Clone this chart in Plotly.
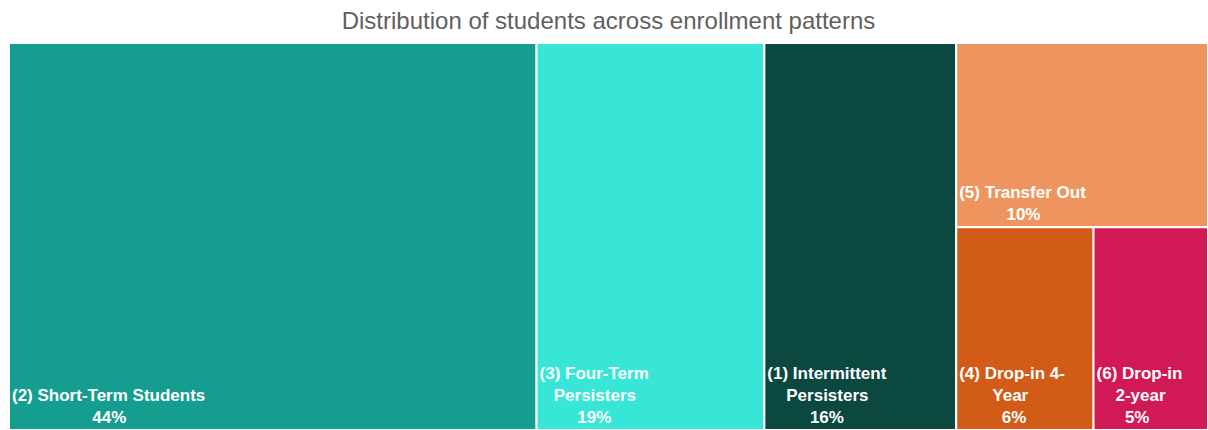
import plotly.graph_objects as go

# Enrollment pattern groups and their share of students (%)
labels = [
    "(2) Short-Term Students",
    "(3) Four-Term Persisters",
    "(1) Intermittent Persisters",
    "(5) Transfer Out",
    "(4) Drop-in 4-Year",
    "(6) Drop-in 2-year",
]
# How each label is broken over lines inside its tile
label_lines = [
    ["(2) Short-Term Students"],
    ["(3) Four-Term", "Persisters"],
    ["(1) Intermittent", "Persisters"],
    ["(5) Transfer Out"],
    ["(4) Drop-in 4-", "Year"],
    ["(6) Drop-in", "2-year"],
]
shares = [44, 19, 16, 10, 6, 5]
colors = ["#159e8f", "#37e6d6", "#0b4840", "#ee955f", "#d15b17", "#d11a55"]

# Approximate bold sans-serif advance widths (per 1000 em) used to centre
# the lines of each tile label under one another.
_W = {
    " ": 278, "(": 333, ")": 333, "-": 333, "%": 889,
    "D": 722, "F": 611, "I": 278, "O": 778, "P": 667, "S": 667, "T": 611, "Y": 667,
    "a": 556, "d": 611, "e": 556, "f": 333, "h": 611, "i": 278, "l": 278,
    "m": 889, "n": 611, "o": 611, "p": 611, "r": 389, "s": 556, "t": 333,
    "u": 611, "y": 556,
}


def _width(s):
    return sum(_W.get(c, 556) for c in s)


def centred_block(lines):
    widest = max(_width(l) for l in lines)
    out = []
    for l in lines:
        n = int(round((widest - _width(l)) / 2 / 278))
        out.append("\u00a0" * n + l)
    return "<br>".join(out)


tile_text = [
    centred_block(lines + [f"{v}%"]) for lines, v in zip(label_lines, shares)
]

fig = go.Figure(
    go.Treemap(
        labels=labels,
        parents=[""] * len(labels),
        values=shares,
        text=tile_text,
        texttemplate="<b>%{text}</b>",
        textposition="bottom left",
        textfont=dict(family="Liberation Sans, Arial, sans-serif", size=17, color="white"),
        marker=dict(
            colors=colors,
            line=dict(color="white", width=2),
            pad=dict(t=0, l=0, r=0, b=0),
        ),
        tiling=dict(packing="squarify", pad=0),
        pathbar=dict(visible=False),
        hoverinfo="label+value",
        sort=True,
        domain=dict(x=[0, 1], y=[0, 1]),
    )
)

fig.update_layout(
    width=1208,
    height=430,
    margin=dict(l=9, r=0, t=43, b=0),
    paper_bgcolor="white",
    title=dict(
        text="Distribution of students across enrollment patterns",
        xref="paper",
        x=0.5,
        xanchor="center",
        y=0.953,
        yanchor="middle",
        font=dict(family="Liberation Sans, Arial, sans-serif", size=24, color="#606060"),
    ),
    uniformtext=dict(minsize=17, mode="show"),
)

fig.write_html("out.html")
